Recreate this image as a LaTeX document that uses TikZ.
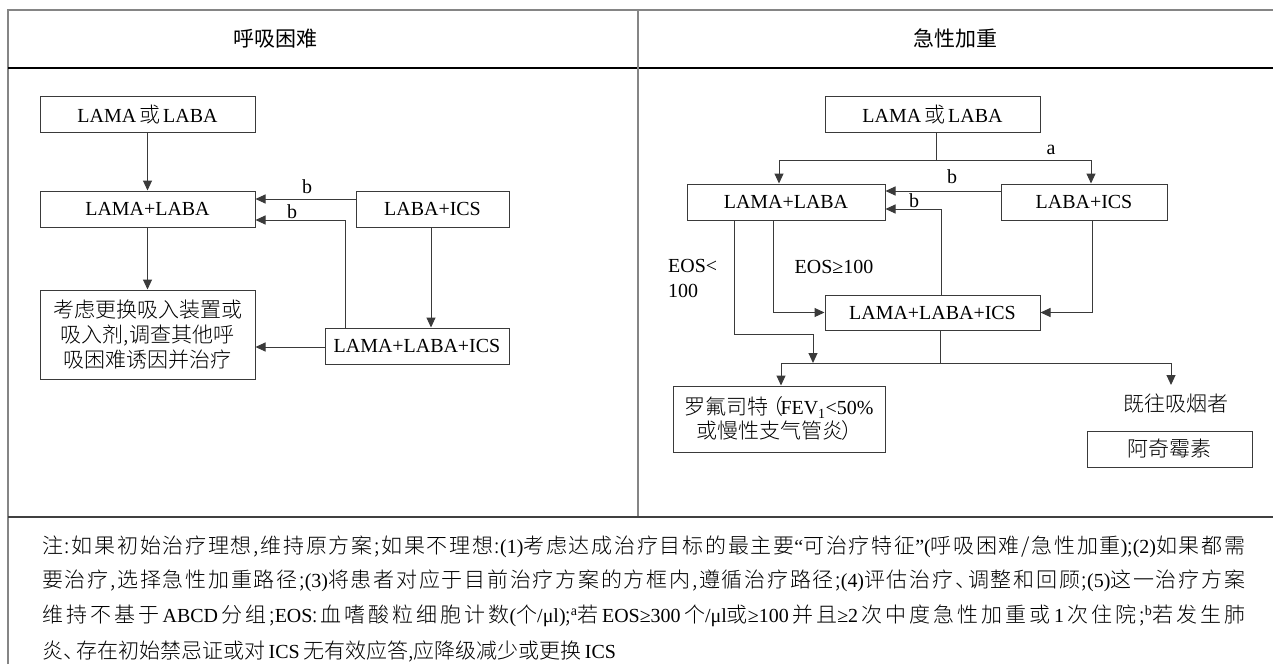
\documentclass[tikz,border=0pt]{standalone}
\usepackage{fontspec}
\IfFontExistsTF{Noto Sans CJK SC Light}{\setmainfont{Noto Sans CJK SC Light}}{\setmainfont{Noto Sans CJK SC}}
\newfontfamily\hdrfont{Noto Sans CJK SC}
\newfontfamily\lat{Liberation Serif}[Scale=0.95]
\newcommand\La[1]{{\lat #1}}
\usetikzlibrary{arrows.meta}
\newXeTeXintercharclass\CJKcls
\count255="4E00
\loop\XeTeXcharclass\count255=\CJKcls\relax\ifnum\count255<"9FFF \advance\count255 by 1 \repeat
\XeTeXcharclass"3001=\CJKcls\relax
\XeTeXinterchartoks\CJKcls\CJKcls={\hskip0pt plus 1pt\relax}
\XeTeXinterchartoks\CJKcls 0={\hskip0pt plus 1pt\relax}
\XeTeXinterchartoks 0\CJKcls={\hskip0pt plus 1pt\relax}
\definecolor{framegray}{HTML}{858585}
\definecolor{linegray}{HTML}{3A3A3A}
\tikzset{
  box/.style={draw=linegray, line width=1pt, inner sep=0pt, align=center},
  conn/.style={draw=linegray, line width=1pt},
  arr/.style={conn, -{Triangle[width=9pt,length=10pt]}},
  lbl/.style={inner sep=0pt, font={\fontsize{21}{25}\selectfont\lat}},
  fn/.style={anchor=west, inner sep=0pt},
  frame/.style={draw=framegray, line width=1.4pt},
}
\begin{document}
\begin{tikzpicture}[x=1pt,y=-1pt,font=\fontsize{21}{25}\selectfont]
\useasboundingbox (0,0) rectangle (1273,664);
% frame
\draw[frame] (8,664) -- (8,10) -- (1273,10);
\draw[draw=black, line width=1.2pt] (8,68) -- (1273,68);
\draw[frame] (638,10) -- (638,517);
\draw[draw=black!75, line width=1.2pt] (8,517) -- (1273,517);
% headers
\node[inner sep=0pt, font=\fontsize{21}{25}\selectfont\hdrfont] (h1) at (275,38.5) {呼吸困难};
\node[inner sep=0pt, font=\fontsize{21}{25}\selectfont\hdrfont] (h2) at (955,38.5) {急性加重};
% ---------- left panel
\node[box, minimum width=215pt, minimum height=35.5pt] (L1) at (147.5,114.5) {\La{LAMA}\hspace{3pt}或\hspace{3pt}\La{LABA}};
\node[box, minimum width=215pt, minimum height=36pt] (L2) at (147.5,209) {\La{LAMA+LABA}};
\node[box, minimum width=215pt, minimum height=89pt] (L3) at (147.5,334.5) {考虑更换吸入装置或\\吸入剂,调查其他呼\\吸困难诱因并治疗};
\node[box, minimum width=153pt, minimum height=36pt] (L4) at (432.5,209) {\La{LABA+ICS}};
\node[box, minimum width=184pt, minimum height=36pt] (L5) at (417,346) {\La{LAMA+LABA+ICS}};
\draw[arr] (L1) -- (L2);
\draw[arr] (L2) -- (L3);
\draw[arr] (L4.west |- 0,199) -- (L2.east |- 0,199);
\node[lbl, anchor=base] (lb1) at (307,193) {b};
\draw[arr] (L5.north -| 345,0) |- (L2.east |- 0,220);
\node[lbl, anchor=base] (lb2) at (292,218) {b};
\draw[arr] (L4.south -| 431,0) -- (L5.north -| 431,0);
\draw[arr] (L5.west |- 0,347) -- (L3.east |- 0,347);
% ---------- right panel
\node[box, minimum width=215pt, minimum height=35.5pt] (R1) at (932.5,114.5) {\La{LAMA}\hspace{3pt}或\hspace{3pt}\La{LABA}};
\node[box, minimum width=198pt, minimum height=36pt] (R2) at (786,202) {\La{LAMA+LABA}};
\node[box, minimum width=166pt, minimum height=36pt] (R3) at (1084,202) {\La{LABA+ICS}};
\node[box, minimum width=215pt, minimum height=35pt] (R4) at (932.5,312.5) {\La{LAMA+LABA+ICS}};
\node[box, minimum width=212pt, minimum height=66pt, font=\fontsize{21}{24}\selectfont] (R5) at (779,419) {罗氟司特\hspace{-6pt}（\hspace{-3pt}\La{FEV\textsubscript{1}<50\%}\\或慢性支气管炎\hspace{-2pt}）};
\node[inner sep=0pt] (sm) at (1176,404) {既往吸烟者};
\node[box, minimum width=165pt, minimum height=36pt] (R6) at (1169.5,449) {阿奇霉素};
\coordinate (rs) at (936,160);
\coordinate (rl) at (779,160);
\coordinate (rr) at (1091,160);
\draw[conn] (R1.south -| rs) -- (rs);
\draw[arr] (rs) -- (rl) -- (R2.north -| rl);
\draw[arr] (rs) -- (rr) -- (R3.north -| rr);
\node[lbl, anchor=base] (la) at (1051,154) {a};
\draw[arr] (R3.west |- 0,191) -- (R2.east |- 0,191);
\node[lbl, anchor=base] (rb1) at (952,183) {b};
\draw[arr] (R4.north -| 941,0) |- (R2.east |- 0,209);
\node[lbl, anchor=base] (rb2) at (914,207) {b};
\draw[arr] (R2.south -| 773,0) |- (R4.west);
\draw[arr] (R3.south -| 1092,0) |- (R4.east);
\node[lbl] (eos1) at (834,267) {EOS≥100};
\node[lbl, anchor=west, align=left] (eos2) at (668,278.5) {EOS<\\100};
\coordinate (e1) at (734,334);
\coordinate (e2) at (813,334);
\coordinate (hm) at (813,363);
\coordinate (hl) at (781,363);
\coordinate (hr) at (1171,363);
\coordinate (hc) at (940,363);
\coordinate (smk) at (1171,385);
\draw[arr] (R2.south -| e1) -- (e1) -- (e2) -- (hm);
\draw[conn] (R4.south -| hc) -- (hc);
\draw[conn] (hl) -- (hr);
\draw[arr] (hl) -- (R5.north -| hl);
\draw[arr] (hr) -- (smk);
% ---------- footnote
\node[fn] (f1) at (42,547) {\XeTeXinterchartokenstate=1 \hbox to 1203pt{注:如果初始治疗理想,维持原方案;如果不理想:\La{(1)}考虑达成治疗目标的最主要\La{“}可治疗特征\La{”(}呼吸困难/急性加重\La{)};\La{(2)}如果都需}};
\node[fn] (f2) at (42,581) {\XeTeXinterchartokenstate=1 \hbox to 1203pt{要治疗,选择急性加重路径;\La{(3)}将患者对应于目前治疗方案的方框内,遵循治疗路径;\La{(4)}评估治疗、\hspace{-8pt}调整和回顾;\La{(5)}这一治疗方案}};
\node[fn] (f3) at (42,616) {\XeTeXinterchartokenstate=1 \hbox to 1203pt{维持不基于\,\La{ABCD}\,分组;\La{EOS}:血嗜酸粒细胞计数\La{(}个\La{/μl)};\La{\textsuperscript{a}}若\,\La{EOS≥300}\,个\La{/μl}或\La{≥100}\,并且\La{≥2}\,次中度急性加重或\,\La{1}\,次住院;\La{\textsuperscript{b}}若发生肺}};
\node[fn] (f4) at (42,652) {\XeTeXinterchartokenstate=1 \hbox{炎、\hspace{-8pt}存在初始禁忌证或对\,\La{ICS}\,无有效应答,应降级减少或更换\,\La{ICS}}};
\end{tikzpicture}
\end{document}
